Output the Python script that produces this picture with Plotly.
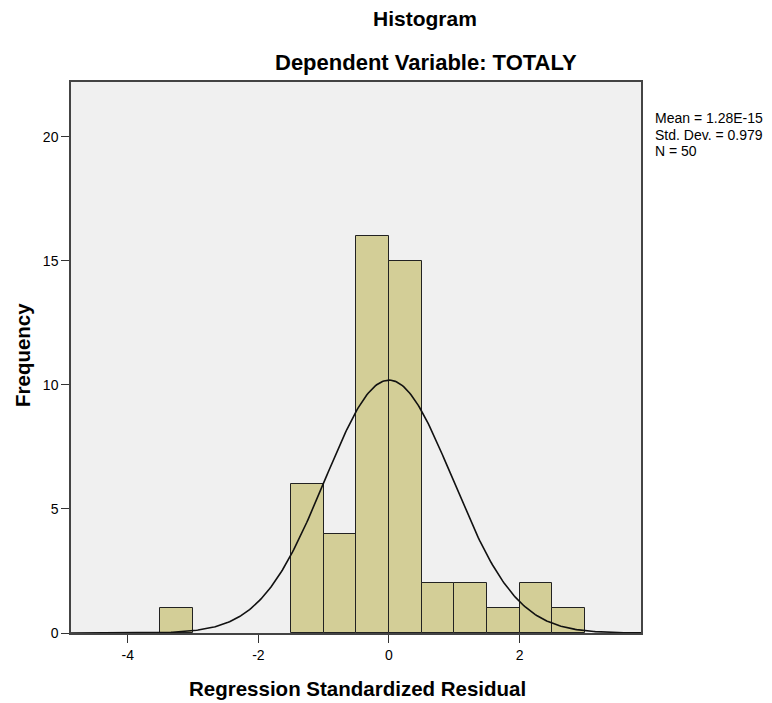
import numpy as np
import plotly.graph_objects as go

# Data
bin_starts = [-3.5, -1.5, -1.0, -0.5, 0.0, 0.5, 1.0, 1.5, 2.0, 2.5]
frequencies = [1, 6, 4, 16, 15, 2, 2, 1, 2, 1]
bin_width = 0.5
mean_val = 1.28e-15
std_dev = 0.979
n_obs = 50
x_ticks = [-4, -2, 0, 2]
y_ticks = [0, 5, 10, 15, 20]
stats_lines = ["Mean = 1.28E-15", "Std. Dev. = 0.979", "N = 50"]

centers = [b + bin_width / 2 for b in bin_starts]

# Fitted normal curve defined by the displayed Mean / Std. Dev. / N
xc = np.linspace(-4.87, 3.86, 400)
yc = n_obs * bin_width * np.exp(-0.5 * ((xc - mean_val) / std_dev) ** 2) / (std_dev * np.sqrt(2 * np.pi))

FONT = "Liberation Sans, Arial, sans-serif"

W, H = 764, 695
L, R, T, B = 63, 131, 74, 70
PW, PH = W - L - R, H - T - B


def px(x):
    return (x - L) / PW


def py(y):
    return (H - B - y) / PH


fig = go.Figure()
fig.add_trace(go.Bar(
    x=centers, y=frequencies, width=bin_width,
    marker=dict(color="#D3CE97", line=dict(color="#222222", width=1)),
    hoverinfo="skip", showlegend=False,
))
fig.add_trace(go.Scatter(
    x=xc, y=yc, mode="lines",
    line=dict(color="#111111", width=1.6),
    hoverinfo="skip", showlegend=False,
))

annotations = [
    dict(text="<b>Histogram</b>", x=px(417), y=py(11), xref="paper", yref="paper",
         xanchor="center", yanchor="middle", showarrow=False, font=dict(size=21)),
    dict(text="<b>Dependent Variable: TOTALY</b>", x=px(418), y=py(55), xref="paper", yref="paper",
         xanchor="center", yanchor="middle", showarrow=False, font=dict(size=22)),
    dict(text="<b>Regression Standardized Residual</b>", x=px(349), y=py(680), xref="paper", yref="paper",
         xanchor="center", yanchor="middle", showarrow=False, font=dict(size=20.5)),
    dict(text="<b>Frequency</b>", x=px(14), y=py(347), xref="paper", yref="paper",
         xanchor="center", yanchor="middle", textangle=-90, showarrow=False, font=dict(size=20.5)),
]
for i, line in enumerate(stats_lines):
    annotations.append(dict(
        text=line, x=px(645), y=py(110 + i * 16.5), xref="paper", yref="paper",
        xanchor="left", yanchor="middle", showarrow=False, font=dict(size=14)))

fig.update_layout(
    width=W, height=H,
    margin=dict(l=L, r=R, t=T, b=B),
    paper_bgcolor="white",
    plot_bgcolor="#F0F0F0",
    font=dict(family=FONT, color="#000000"),
    bargap=0,
    xaxis=dict(
        range=[-4.87, 3.86], tickvals=x_ticks, ticktext=[str(t) for t in x_ticks],
        ticks="outside", ticklen=8, tickcolor="#333333", tickfont=dict(size=14),
        showgrid=False, zeroline=False,
        showline=True, linecolor="#444444", linewidth=1.5, mirror=True,
    ),
    yaxis=dict(
        range=[0, 22.2], tickvals=y_ticks, ticktext=[str(t) for t in y_ticks],
        ticks="outside", ticklen=8, tickcolor="#333333", tickfont=dict(size=14),
        showgrid=False, zeroline=False,
        showline=True, linecolor="#444444", linewidth=1.5, mirror=True,
    ),
    annotations=annotations,
)

fig.write_html("out.html")
